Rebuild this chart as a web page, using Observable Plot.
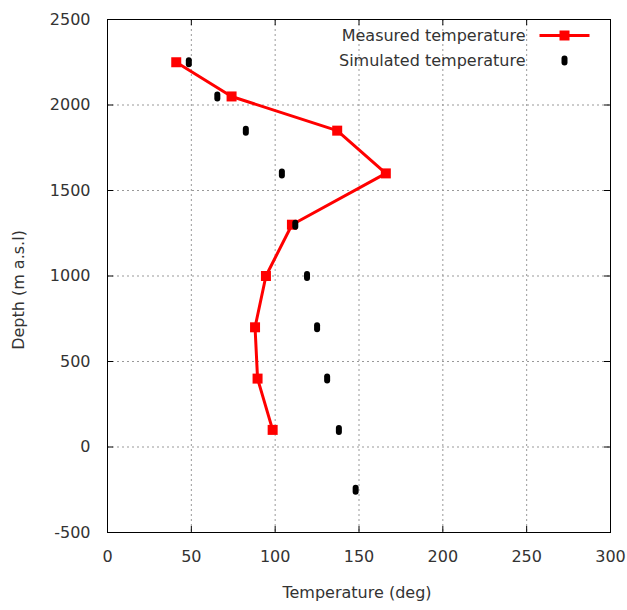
<!DOCTYPE html>
<html>
<head>
<meta charset="utf-8">
<script src="https://cdn.jsdelivr.net/npm/d3@7"></script>
<script src="https://cdn.jsdelivr.net/npm/@observablehq/plot@0.6"></script>
<style>
  html, body { margin: 0; padding: 0; background: #fff; }
  #chart svg { display: block; }
</style>
</head>
<body>
<div id="chart"></div>
<script>
// Measured temperature profile
const measuredDepth = [2250, 2050, 1850, 1600, 1300, 1000, 700, 400, 100];
const measuredTemp  = [41, 74, 137, 166, 110, 94.5, 88, 89.5, 98.5];

// Simulated temperature profile
const simulatedDepth = [2250, 2050, 1850, 1600, 1300, 1000, 700, 400, 100, -250];
const simulatedTemp  = [48.5, 65.5, 82.5, 104, 112, 119, 125, 131, 138, 148];

// Axis ticks and labels
const xTicks = [0, 50, 100, 150, 200, 250, 300];
const yTicks = [-500, 0, 500, 1000, 1500, 2000, 2500];
const legendLabels = ["Measured temperature", "Simulated temperature"];
const xLabel = "Temperature (deg)";
const yLabel = "Depth (m a.s.l)";

const measured = measuredDepth.map((d, i) => ({depth: d, temp: measuredTemp[i]}));
const simulated = simulatedDepth.map((d, i) => ({depth: d, temp: simulatedTemp[i]}));

const W = 627, H = 610;
const mL = 107, mR = 17, mT = 19, mB = 78;
const pw = W - mL - mR, ph = H - mT - mB;
const tick = 6;
const font = "DejaVu Sans, sans-serif";
const textColor = "#333";
const fs = 16;
const fmt = d => String(d);

const squareSym = {draw(ctx) { ctx.rect(-5, -5, 10, 10); }};
const capsuleSym = {draw(ctx) {
  const r = 3, h = 2;
  ctx.moveTo(-r, -h);
  ctx.arc(0, -h, r, Math.PI, 0);
  ctx.lineTo(r, h);
  ctx.arc(0, h, r, 0, Math.PI);
  ctx.closePath();
}};
const legendLineSym = {draw(ctx) { ctx.moveTo(-25, 0); ctx.lineTo(25, 0); }};

const chart = Plot.plot({
  width: W,
  height: H,
  marginLeft: mL,
  marginRight: mR,
  marginTop: mT,
  marginBottom: mB,
  style: {fontFamily: font, fontSize: fs + "px", color: textColor, background: "#fff"},
  x: {domain: [0, 300], ticks: xTicks},
  y: {domain: [-500, 2500], ticks: yTicks},
  marks: [
    Plot.gridX(xTicks, {stroke: "#999", strokeOpacity: 1, strokeDasharray: "2,3"}),
    Plot.gridY(yTicks, {stroke: "#999", strokeOpacity: 1, strokeDasharray: "2,3"}),
    // inward ticks on all four sides
    Plot.ruleY(yTicks, {stroke: "#000", insetRight: pw - tick}),
    Plot.ruleY(yTicks, {stroke: "#000", insetLeft: pw - tick}),
    Plot.ruleX(xTicks, {stroke: "#000", insetTop: ph - tick}),
    Plot.ruleX(xTicks, {stroke: "#000", insetBottom: ph - tick}),
    Plot.frame({stroke: "#000", strokeWidth: 1}),
    Plot.axisX(xTicks, {tickSize: 0, tickPadding: 18, label: null, tickFormat: fmt, fill: textColor, fontSize: fs}),
    Plot.axisY(yTicks, {tickSize: 0, tickPadding: 17, label: null, tickFormat: fmt, fill: textColor, fontSize: fs}),
    // data
    Plot.line(measured, {x: "temp", y: "depth", stroke: "#ff0000", strokeWidth: 3}),
    Plot.dot(measured, {x: "temp", y: "depth", symbol: squareSym, r: 4, fill: "#ff0000", stroke: "none"}),
    Plot.dot(simulated, {x: "temp", y: "depth", symbol: capsuleSym, r: 4, fill: "#000", stroke: "none"}),
    // legend
    Plot.text([legendLabels[0]], {frameAnchor: "top-right", dx: -85, dy: 16, textAnchor: "end", lineAnchor: "middle", fill: textColor, fontSize: fs}),
    Plot.text([legendLabels[1]], {frameAnchor: "top-right", dx: -85, dy: 41, textAnchor: "end", lineAnchor: "middle", fill: textColor, fontSize: fs}),
    Plot.dot([0], {frameAnchor: "top-right", dx: -46, dy: 16, symbol: legendLineSym, r: 4, fill: "none", stroke: "#ff0000", strokeWidth: 3}),
    Plot.dot([0], {frameAnchor: "top-right", dx: -46, dy: 16, symbol: squareSym, r: 4, fill: "#ff0000", stroke: "none"}),
    Plot.dot([0], {frameAnchor: "top-right", dx: -46, dy: 41, symbol: capsuleSym, r: 4, fill: "#000", stroke: "none"}),
    // axis titles
    Plot.text([xLabel], {frameAnchor: "bottom", dx: -2, dy: 60, textAnchor: "middle", lineAnchor: "middle", fill: textColor, fontSize: fs}),
    Plot.text([yLabel], {frameAnchor: "left", dx: -89, dy: 14, rotate: -90, textAnchor: "middle", lineAnchor: "middle", fill: textColor, fontSize: fs, letterSpacing: "0.7px"})
  ]
});
document.getElementById("chart").appendChild(chart);
</script>
</body>
</html>
